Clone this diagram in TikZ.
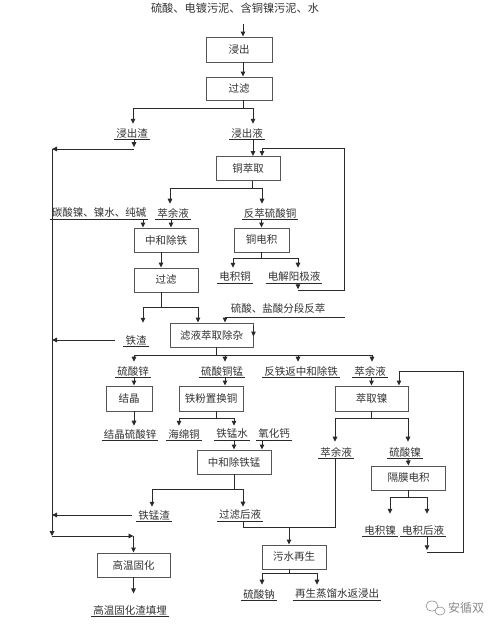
\documentclass[tikz,border=0pt]{standalone}
\usepackage{fontspec}
\newfontfamily\cjk{Noto Sans CJK SC}
\usetikzlibrary{arrows.meta,calc}
\definecolor{txt}{HTML}{333333}
\definecolor{linec}{HTML}{2A2A2A}
\definecolor{boxc}{HTML}{555555}
\definecolor{wm}{HTML}{8A8A8A}
\begin{document}
\begin{tikzpicture}[x=1pt,y=-1pt,
  font=\cjk\fontsize{10.5}{12}\selectfont,
  every node/.style={text=txt},
  box/.style={draw=boxc, line width=0.9pt, rectangle, inner sep=0pt},
  lab/.style={inner xsep=2pt, inner ysep=1.2pt,
    append after command={(\tikzlastnode.south west) edge[draw=linec,line width=0.6pt] (\tikzlastnode.south east)}},
  ln/.style={draw=linec, line width=0.9pt},
  arr/.style={ln, -{Triangle[width=4.5pt,length=5pt]}}
]
\useasboundingbox (0,0) rectangle (500,629);
\fill[white] (0,0) rectangle (500,629);

% ---- title
\node[font=\cjk\fontsize{11.2}{13}\selectfont] (title) at (235,8) {硫酸、电镀污泥、含铜镍污泥、水};

% ---- boxes
\node[box,minimum width=66pt,minimum height=25pt] (jc)  at (239,49.5) {浸出};
\node[box,minimum width=66pt,minimum height=23pt] (gl1) at (239,88.5) {过滤};
\node[box,minimum width=64pt,minimum height=24pt] (tcq) at (248,168.5) {铜萃取};
\node[box,minimum width=64pt,minimum height=24pt] (zh)  at (166,240) {中和除铁};
\node[box,minimum width=55pt,minimum height=24pt] (tdj) at (261.5,240) {铜电积};
\node[box,minimum width=64pt,minimum height=24pt] (gl2) at (166,280) {过滤};
\node[box,minimum width=83pt,minimum height=24pt] (ly)  at (211.5,335) {滤液萃取除杂};
\node[box,minimum width=46pt,minimum height=25pt] (jj)  at (129,398.5) {结晶};
\node[box,minimum width=64pt,minimum height=25pt] (tf)  at (211,398.5) {铁粉置换铜};
\node[box,minimum width=73pt,minimum height=25pt] (nq)  at (371.5,398.5) {萃取镍};
\node[box,minimum width=74pt,minimum height=24pt] (zhm) at (234,462) {中和除铁锰};
\node[box,minimum width=74pt,minimum height=24pt] (gm)  at (408.5,478) {隔膜电积};
\node[box,minimum width=64pt,minimum height=24pt] (ws)  at (294,557) {污水再生\hspace{6pt}};
\node[box,minimum width=73pt,minimum height=24pt] (gw)  at (133.5,565) {高温固化\hspace{14pt}};

% ---- labels
\node[lab] (l_jzz)  at (132,133) {浸出渣};
\node[lab] (l_jcy)  at (247,133) {浸出液};
\node[lab] (l_tjn)  at (99,213)  {碳酸镍、镍水、纯碱};
\node[lab] (l_cyy1) at (173,213) {萃余液};
\node[lab] (l_fcl)  at (270,213) {反萃硫酸铜};
\node[lab] (l_djt)  at (235,277) {电积铜};
\node[lab] (l_djy)  at (294,277) {电解阳极液};
\node (l_ls) at (278,308) {硫酸、盐酸分段反萃};
\node[lab] (l_tz)   at (136,340) {铁渣};
\node[lab] (l_lsx)  at (133,371) {硫酸锌};
\node[lab] (l_lstm) at (222,371) {硫酸铜锰};
\node[lab] (l_ft)   at (301,371) {反铁返中和除铁};
\node[lab] (l_cyy2) at (370,371) {萃余液};
\node[lab] (l_jjl)  at (130,434) {结晶硫酸锌};
\node[lab] (l_hmt)  at (184,434) {海绵铜};
\node[lab] (l_tms)  at (232,434) {铁锰水};
\node[lab] (l_yhg)  at (274,434) {氧化钙};
\node[lab] (l_cyy3) at (336,452) {萃余液};
\node[lab] (l_lsn)  at (405,452) {硫酸镍};
\node[lab] (l_tmz)  at (154,515) {铁锰渣};
\node[lab] (l_glh)  at (240,515) {过滤后液};
\node[lab] (l_djn)  at (380,530) {电积镍};
\node[lab] (l_djh)  at (423,530) {电积后液};
\node[lab] (l_lsna) at (259,594) {硫酸钠};
\node[lab] (l_zs)   at (337,594) {再生蒸馏水返浸出};
\node[lab] (l_gwz)  at (130,610) {高温固化渣填埋};

% ---- free coordinates
\coordinate (busTop) at (52,149);
\coordinate (busBot) at (52,536);
\coordinate (loopA) at (344,148);
\coordinate (loopB) at (463,371);
\coordinate (feed) at (345,317);

% ---- connectors
\draw[arr] ([xshift=8pt,yshift=-7pt]title.south) -- ([xshift=4pt]jc.north);
\draw[arr] ([xshift=4pt]jc.south) -- ([xshift=4pt]gl1.north);
\draw[ln] ([xshift=4pt]gl1.south) -- ++(0,8) coordinate (s1);
\draw[arr] (s1) -| ([xshift=1pt,yshift=3pt]l_jzz.north);
\draw[arr] (s1) -| ([xshift=6pt,yshift=3pt]l_jcy.north);

\coordinate (a1) at ([xshift=2pt]l_jzz.south);
\draw[arr] (a1) -- ++(0,8);
\draw[arr] (a1 |- busTop) -- (busTop);
\draw[arr] (busTop) -- (busBot);

\draw[arr] ([xshift=6pt]l_jcy.south) -- ([xshift=5pt]tcq.north);

\coordinate (a4) at ([xshift=4pt]l_djy.south);
\draw[arr] (a4) -- ++(0,6);
\draw[arr] ([yshift=-7pt]a4) -| (loopA) -| ([xshift=14pt]tcq.north);

\draw[ln] ([xshift=4pt]tcq.south) -- ++(0,7.5) coordinate (s2);
\draw[arr] (s2) -| ([xshift=-3pt,yshift=3pt]l_cyy1.north);
\draw[arr] (s2) -| ([xshift=-8pt,yshift=3pt]l_fcl.north);

\coordinate (a2) at ([xshift=-23pt]zh.north);
\draw[arr] (a2 |- l_tjn.south) -- (a2);
\coordinate (a3) at ([xshift=5pt]zh.north);
\draw[arr] (a3 |- l_cyy1.south) -- (a3);
\draw[arr] (tdj.north |- l_fcl.south) -- (tdj.north);

\draw[arr] ([xshift=-5pt]zh.south) -- ([xshift=-5pt]gl2.north);

\draw[ln] (tdj.south) -- ++(0,6) coordinate (s3);
\draw[arr] (s3) -| ([xshift=-2pt,yshift=3pt]l_djt.north);
\draw[arr] (s3) -| ([xshift=4pt,yshift=3pt]l_djy.north);

\draw[ln] ([xshift=-5pt]gl2.south) -- ++(0,15) coordinate (s5);
\draw[arr] (s5) -| ([xshift=7pt,yshift=11pt]l_tz.north);
\draw[arr] (s5) -| ([xshift=-13.5pt]ly.north);

\draw[arr] (feed) -| ([xshift=13.5pt]ly.north);
\draw[arr] ([yshift=-3pt]ly.north east) -- ([yshift=-14pt]ly.north east);

\draw[arr] ([xshift=-8pt]l_tz.west) -- (l_tz.west -| busTop);

\draw[ln] ([xshift=4.5pt]ly.south) -- ++(0,8) coordinate (s4);
\coordinate (t1) at ([xshift=1pt,yshift=3pt]l_lsx.north);
\coordinate (t2) at ([xshift=3pt,yshift=3pt]l_lstm.north);
\coordinate (t3) at ([xshift=-3pt,yshift=3pt]l_ft.north);
\coordinate (t4) at ([xshift=2pt,yshift=3pt]l_cyy2.north);
\draw[arr] (s4) -| (t1);
\draw[arr] (s4) -| (t4);
\draw[arr] (t2 |- s4) -- (t2);
\draw[arr] (t3 |- s4) -- (t3);

\coordinate (b1) at ([xshift=5pt]jj.north);
\draw[arr] (b1 |- l_lsx.south) -- (b1);
\coordinate (b2) at ([xshift=14pt]tf.north);
\draw[arr] (b2 |- l_lstm.south) -- (b2);
\draw[arr] (nq.north |- l_cyy2.south) -- (nq.north);

\coordinate (c5) at ([xshift=4pt]l_djh.south);
\draw[arr] (c5) -- ++(0,14);
\draw[arr] ([yshift=-16pt]c5) -| (loopB) -| ([xshift=27.5pt]nq.north);

\coordinate (b3) at ([xshift=5pt]jj.south);
\draw[arr] (b3) -- ([yshift=2pt]b3 |- l_jjl.north);

\draw[ln] ([xshift=5pt]tf.south) -- ++(0,7) coordinate (s6);
\draw[arr] (s6) -| ([xshift=-5pt,yshift=2pt]l_hmt.north);
\draw[arr] (s6) -| ([xshift=2pt,yshift=2pt]l_tms.north);

\draw[arr] (zhm.north |- l_tms.south) -- (zhm.north);
\coordinate (b4) at ([xshift=28pt]zhm.north);
\draw[arr] (b4 |- l_yhg.south) -- (b4);

\draw[ln] (zhm.south) -- ++(0,15) coordinate (s7);
\draw[arr] (s7) -| ([xshift=-2pt,yshift=2pt]l_tmz.north);
\draw[arr] (s7) -| ([xshift=3pt,yshift=2pt]l_glh.north);
\draw[arr] ([xshift=-4pt]l_tmz.west) -- (l_tmz.west -| busTop);

\coordinate (wsIn) at ([xshift=-5pt,yshift=17pt]ws.north);
\draw[ln] ([xshift=3pt]l_glh.south) |- (wsIn) -| ([xshift=-1pt]l_cyy3.south);
\draw[arr] (wsIn) -- ([xshift=-5pt]ws.north);

\draw[ln] (nq.south) -- ++(0,7) coordinate (s8);
\draw[arr] (s8) -| ([xshift=-1pt,yshift=4pt]l_cyy3.north);
\draw[arr] (s8) -| ([xshift=3pt,yshift=4pt]l_lsn.north);

\draw[arr] ([xshift=3pt]l_lsn.south) -- (gm.north);

\draw[ln] (gm.south) -- ++(0,7) coordinate (s9);
\draw[arr] (s9) -| ([xshift=10pt,yshift=10pt]l_djn.north);
\draw[arr] (s9) -| ([xshift=4pt,yshift=10pt]l_djh.north);

\draw[ln] ([xshift=-5pt]ws.south) -- ++(0,4) coordinate (s10);
\draw[arr] (s10) -| ([xshift=3pt,yshift=3pt]l_lsna.north);
\draw[arr] (s10) -| ([xshift=-20pt,yshift=3pt]l_zs.north);

\draw[arr] (busBot) -- (busBot -| gw.north);
\draw[arr] (busBot -| gw.north) -- (gw.north);
\draw[arr] (gw.south) -- ++(0,16);

% ---- watermark
\draw[wm, line width=0.6pt] (432,606) ellipse (6 and 5);
\draw[wm, line width=0.6pt, fill=white] (440,611) ellipse (5 and 4);
\node[text=wm, font=\cjk\fontsize{12}{14}\selectfont] (wmk) at (466,608) {安循双};
\end{tikzpicture}
\end{document}
